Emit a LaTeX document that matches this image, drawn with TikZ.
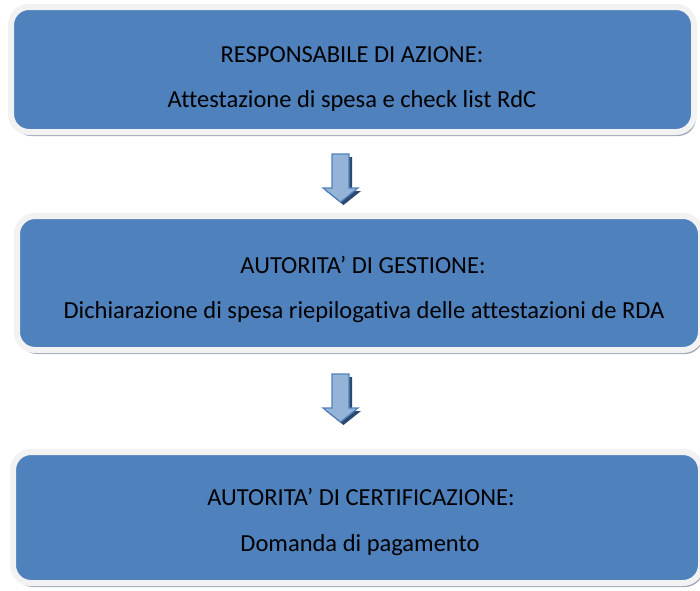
\documentclass[tikz,border=0pt]{standalone}
\usepackage{fontspec}
\setmainfont[Ligatures=NoCommon]{Carlito}
\usetikzlibrary{shadows}
\definecolor{boxblue}{HTML}{4F81BD}
\definecolor{rimgrey}{HTML}{F2F2F2}
\definecolor{shadegrey}{HTML}{A0A8B8}
\definecolor{arrowfill}{HTML}{95B3D7}
\definecolor{arrowline}{HTML}{4F81BD}
\definecolor{arrowshade}{HTML}{2C4A70}
\tikzset{
  stagebox/.style={rectangle, rounded corners=18pt, fill=boxblue, draw=rimgrey,
    line width=6pt, inner sep=0pt,
    drop shadow={shadow xshift=2pt, shadow yshift=-4pt, fill=shadegrey, opacity=1}},
  caption/.style={font=\fontsize{24.5}{29}\selectfont, text=black, inner sep=0pt, anchor=base},
  downarrow/.style={fill=arrowfill, draw=arrowline, line width=1.2pt, line join=miter},
  downshade/.style={fill=arrowshade},
  blockarrow/.pic={
    \path[downshade] (-5.5,3) -- (11.5,3) -- (11.5,37) -- (20.5,37) -- (3,51) -- (-14.5,37) -- (-5.5,37) -- cycle;
    \path[downarrow] (-8.5,0) -- (8.5,0) -- (8.5,34) -- (17.5,34) -- (0,48) -- (-17.5,34) -- (-8.5,34) -- cycle;
  }
}
\begin{document}
\begin{tikzpicture}[x=1pt,y=-1pt]
  \useasboundingbox[fill=white] (0,0) rectangle (700,590);
  \node[stagebox, minimum width=683pt, minimum height=125pt] (b1) at (352.5,69.5) {};
  \node[stagebox, minimum width=684pt, minimum height=134pt] (b2) at (359,283) {};
  \node[stagebox, minimum width=688pt, minimum height=131pt] (b3) at (357,517.5) {};
  \node[caption] (t1a) at (352,62) {RESPONSABILE DI AZIONE:};
  \node[caption] (t1b) at (352,107) {Attestazione di spesa e check list RdC};
  \node[caption] (t2a) at (363,273) {AUTORITA’ DI GESTIONE:};
  \node[caption] (t2b) at (364,318) {Dichiarazione di spesa riepilogativa delle attestazioni de RDA};
  \node[caption] (t3a) at (361,505) {AUTORITA’ DI CERTIFICAZIONE:};
  \node[caption] (t3b) at (360,551) {Domanda di pagamento};
  \pic at (340.5,154) {blockarrow};
  \pic at (340.5,374) {blockarrow};
\end{tikzpicture}
\end{document}
